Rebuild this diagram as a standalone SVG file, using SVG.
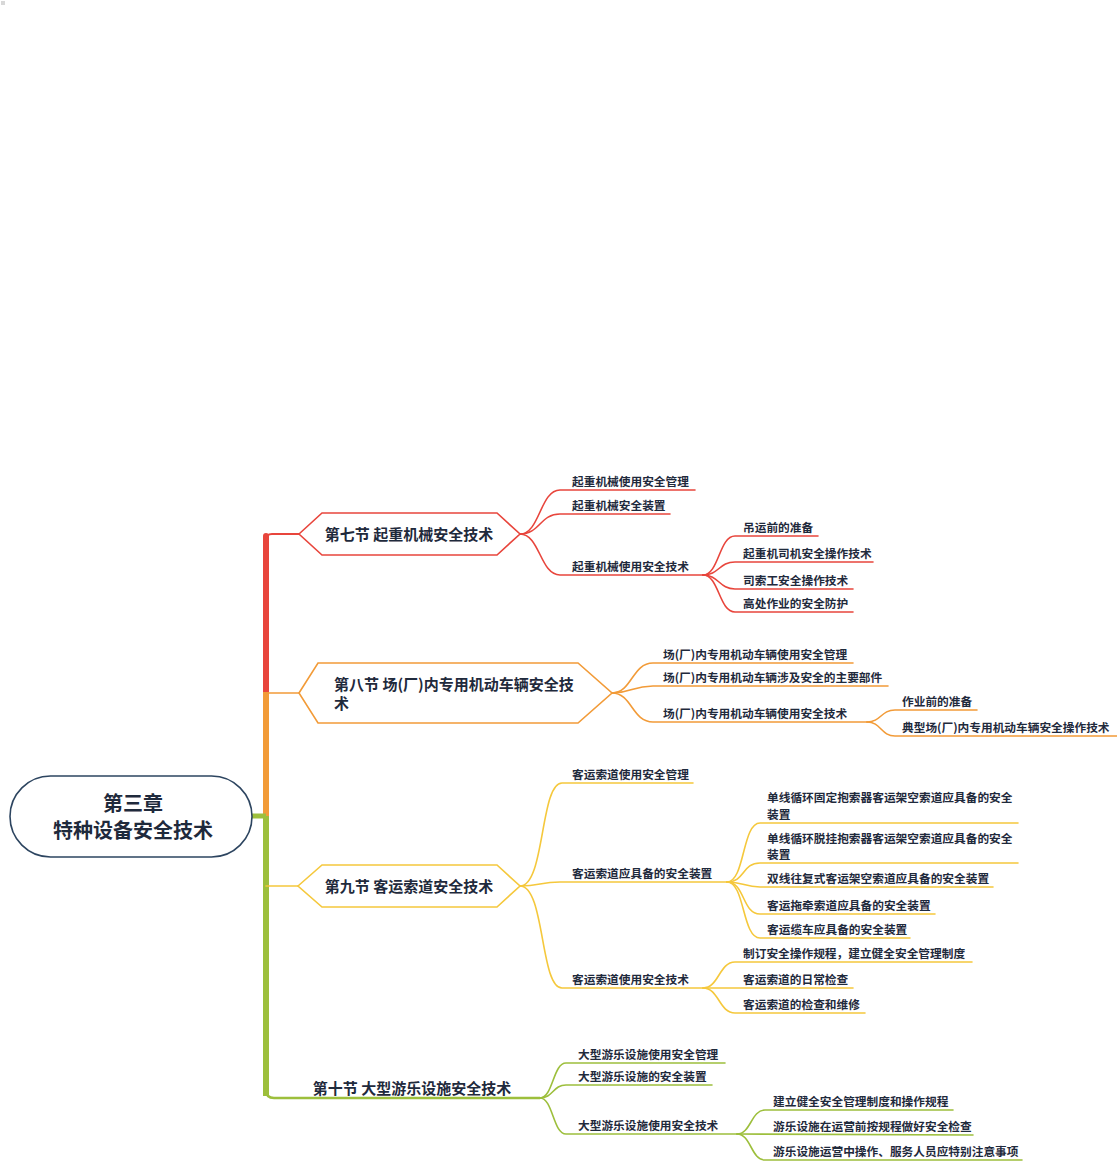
<svg xmlns="http://www.w3.org/2000/svg" width="1117" height="1163" viewBox="0 0 1117 1163">
<style>
text{font-family:"Noto Sans CJK SC","Noto Sans",sans-serif;font-weight:700;fill:#1f2a3c}
.root{font-size:20px}
.sec{font-size:15px}
.leaf{font-size:11.7px}
.c{fill:none;stroke-width:1.6;stroke-linecap:round}
.red{stroke:#e8453c}
.org{stroke:#f29b38}
.yel{stroke:#f5c83c}
.grn{stroke:#9dbf3c}
.hex{fill:#fff;stroke-width:1.6}
</style>
<rect width="1117" height="1163" fill="#fff"/>
<rect x="1" y="1" width="4" height="4" fill="#d8d8d8"/>

<g id="connectors">
  <!-- trunk -->
  <path d="M266,693 L266,540 Q266,534 272,534 L299,534" fill="none" stroke="#e8453c" stroke-width="2"/>
  <rect x="263" y="533" width="6" height="162" rx="3" fill="#e8453c"/>
  <rect x="263" y="692" width="6" height="126" fill="#f29b38"/>
  <path d="M266,693 L299,693" class="c org" stroke-width="2"/>
  <rect x="263" y="816" width="6" height="280" fill="#9dbf3c"/>
  <path d="M266,1090 Q266,1098 274,1098 L540,1098" fill="none" stroke="#9dbf3c" stroke-width="2.5"/>
  <rect x="263" y="1088" width="6" height="8" rx="3" fill="#9dbf3c"/>
  <path d="M252,816 L266,816" fill="none" stroke="#9dbf3c" stroke-width="5"/>
  <path d="M266,886 L298,886" class="c yel" stroke-width="2"/>

  <!-- section 7 -->
  <path class="c red" d="M520,534 C540,534 540,490 560,490 L695,490"/>
  <path class="c red" d="M520,534 C540,534 540,514 560,514 L670,514"/>
  <path class="c red" d="M520,534 C540,534 540,575 560,575 L703,575"/>
  <path class="c red" d="M703,575 C719,575 719,536 735,536 L818,536"/>
  <path class="c red" d="M703,575 C719,575 719,562 735,562 L873,562"/>
  <path class="c red" d="M703,575 C719,575 719,589 735,589 L853,589"/>
  <path class="c red" d="M703,575 C719,575 719,612 735,612 L853,612"/>

  <!-- section 8 -->
  <path class="c org" d="M612,693 C632,693 632,663 653,663 L853,663"/>
  <path class="c org" d="M612,693 C632,693 632,686 653,686 L888,686"/>
  <path class="c org" d="M612,693 C632,693 632,722 653,722 L867,722"/>
  <path class="c org" d="M867,722 C881,722 881,710 895,710 L977,710"/>
  <path class="c org" d="M867,722 C881,722 881,736 895,736 L1117,736"/>

  <!-- section 9 -->
  <path class="c yel" d="M520,886 C545,886 540,783 562,783 L693,783"/>
  <path class="c yel" d="M520,886 C540,886 540,882 560,882 L727,882"/>
  <path class="c yel" d="M520,886 C545,886 540,988 562,988 L703,988"/>
  <path class="c yel" d="M727,882 C745,882 742,823 760,823 L1018,823"/>
  <path class="c yel" d="M727,882 C745,882 742,863 760,863 L1018,863"/>
  <path class="c yel" d="M727,882 C744,882 744,887 760,887 L993,887"/>
  <path class="c yel" d="M727,882 C745,882 742,914 760,914 L935,914"/>
  <path class="c yel" d="M727,882 C745,882 742,938 760,938 L910,938"/>
  <path class="c yel" d="M703,988 C719,988 719,962 735,962 L972,962"/>
  <path class="c yel" d="M703,988 L853,988"/>
  <path class="c yel" d="M703,988 C719,988 719,1013 735,1013 L865,1013"/>

  <!-- section 10 -->
  <path class="c grn" d="M540,1098 C553,1098 553,1063 566,1063 L725,1063"/>
  <path class="c grn" d="M540,1098 C553,1098 553,1085 566,1085 L712,1085"/>
  <path class="c grn" d="M540,1098 C553,1098 553,1134 566,1134 L737,1134"/>
  <path class="c grn" d="M737,1134 C751,1134 751,1110 765,1110 L953,1110"/>
  <path class="c grn" d="M737,1134 L973,1135"/>
  <path class="c grn" d="M737,1134 C751,1134 751,1160 765,1160 L1022,1160"/>
</g>

<g id="root">
  <rect x="10" y="776" width="242" height="81" rx="40.5" fill="#fff" stroke="#2d4560" stroke-width="1.6"/>
  <text class="root" x="133" y="810.5" text-anchor="middle">第三章</text>
  <text class="root" x="133" y="837.5" text-anchor="middle">特种设备安全技术</text>
</g>

<g id="sec7">
  <polygon class="hex red" points="299,534 322,513 497,513 520,534 497,555 322,555"/>
  <text class="sec" x="409" y="539.5" text-anchor="middle">第七节 起重机械安全技术</text>
</g>
<g id="sec7-1"><text class="leaf" x="572" y="485.5">起重机械使用安全管理</text></g>
<g id="sec7-2"><text class="leaf" x="572" y="509.5">起重机械安全装置</text></g>
<g id="sec7-3"><text class="leaf" x="572" y="570.5">起重机械使用安全技术</text></g>
<g id="sec7-3-1"><text class="leaf" x="743" y="531.5">吊运前的准备</text></g>
<g id="sec7-3-2"><text class="leaf" x="743" y="557.5">起重机司机安全操作技术</text></g>
<g id="sec7-3-3"><text class="leaf" x="743" y="584.5">司索工安全操作技术</text></g>
<g id="sec7-3-4"><text class="leaf" x="743" y="607.5">高处作业的安全防护</text></g>

<g id="sec8">
  <polygon class="hex org" points="299,693 318,663 578,663 612,693 578,723 318,723"/>
  <text class="sec" x="334" y="689.5">第八节 场(厂)内专用机动车辆安全技</text>
  <text class="sec" x="334" y="709">术</text>
</g>
<g id="sec8-1"><text class="leaf" x="663" y="658.5">场(厂)内专用机动车辆使用安全管理</text></g>
<g id="sec8-2"><text class="leaf" x="663" y="681.5">场(厂)内专用机动车辆涉及安全的主要部件</text></g>
<g id="sec8-3"><text class="leaf" x="663" y="717.5">场(厂)内专用机动车辆使用安全技术</text></g>
<g id="sec8-3-1"><text class="leaf" x="902" y="705.5">作业前的准备</text></g>
<g id="sec8-3-2"><text class="leaf" x="902" y="731.5">典型场(厂)内专用机动车辆安全操作技术</text></g>

<g id="sec9">
  <polygon class="hex yel" points="298,886 322,865 497,865 520,886 497,907 322,907"/>
  <text class="sec" x="409" y="891.5" text-anchor="middle">第九节 客运索道安全技术</text>
</g>
<g id="sec9-1"><text class="leaf" x="572" y="778.5">客运索道使用安全管理</text></g>
<g id="sec9-2"><text class="leaf" x="572" y="877.5">客运索道应具备的安全装置</text></g>
<g id="sec9-2-1"><text class="leaf" x="767" y="802">单线循环固定抱索器客运架空索道应具备的安全</text><text class="leaf" x="767" y="819">装置</text></g>
<g id="sec9-2-2"><text class="leaf" x="767" y="842.5">单线循环脱挂抱索器客运架空索道应具备的安全</text><text class="leaf" x="767" y="859">装置</text></g>
<g id="sec9-2-3"><text class="leaf" x="767" y="882.5">双线往复式客运架空索道应具备的安全装置</text></g>
<g id="sec9-2-4"><text class="leaf" x="767" y="909.5">客运拖牵索道应具备的安全装置</text></g>
<g id="sec9-2-5"><text class="leaf" x="767" y="933.5">客运缆车应具备的安全装置</text></g>
<g id="sec9-3"><text class="leaf" x="572" y="983.5">客运索道使用安全技术</text></g>
<g id="sec9-3-1"><text class="leaf" x="743" y="957.5">制订安全操作规程，建立健全安全管理制度</text></g>
<g id="sec9-3-2"><text class="leaf" x="743" y="983.5">客运索道的日常检查</text></g>
<g id="sec9-3-3"><text class="leaf" x="743" y="1008.5">客运索道的检查和维修</text></g>

<g id="sec10">
  <text class="sec" x="412" y="1093.5" text-anchor="middle">第十节 大型游乐设施安全技术</text>
</g>
<g id="sec10-1"><text class="leaf" x="578" y="1058.5">大型游乐设施使用安全管理</text></g>
<g id="sec10-2"><text class="leaf" x="578" y="1080.5">大型游乐设施的安全装置</text></g>
<g id="sec10-3"><text class="leaf" x="578" y="1129.5">大型游乐设施使用安全技术</text></g>
<g id="sec10-3-1"><text class="leaf" x="773" y="1105.5">建立健全安全管理制度和操作规程</text></g>
<g id="sec10-3-2"><text class="leaf" x="773" y="1130.5">游乐设施在运营前按规程做好安全检查</text></g>
<g id="sec10-3-3"><text class="leaf" x="773" y="1155.5">游乐设施运营中操作、服务人员应特别注意事项</text></g>
</svg>
